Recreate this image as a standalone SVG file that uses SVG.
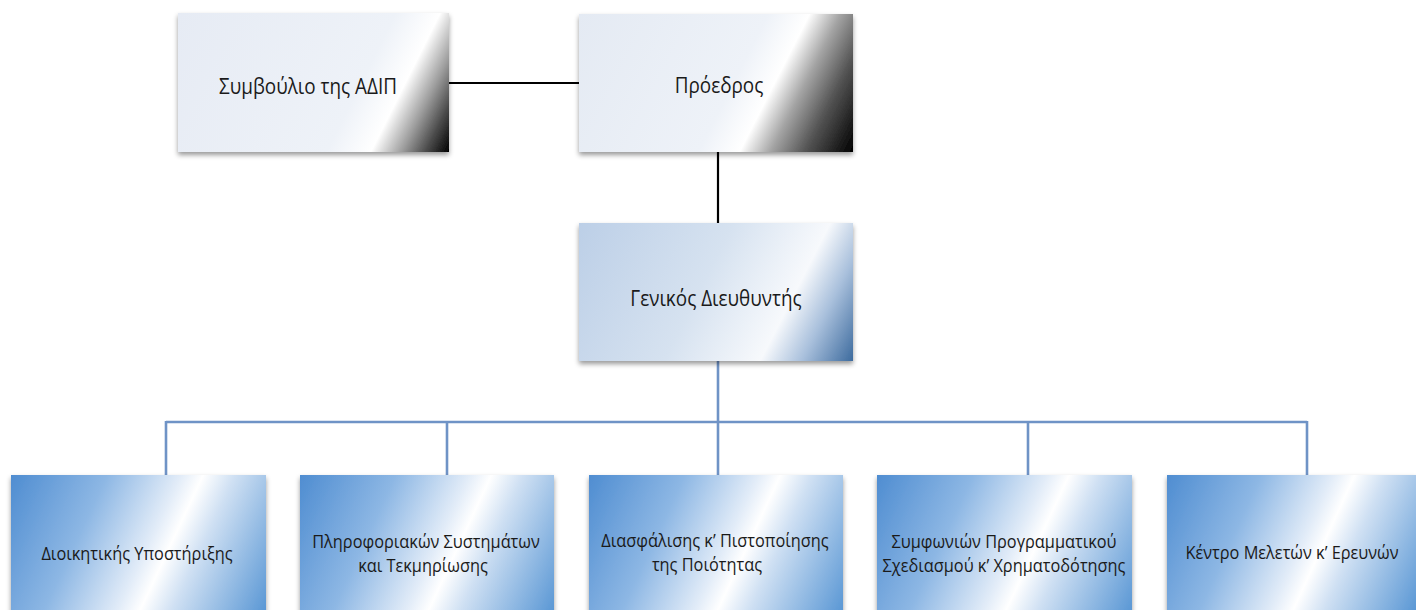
<svg xmlns="http://www.w3.org/2000/svg" width="1416" height="610" viewBox="0 0 1416 610">
  <style>
    .t { font-family: "Open Sans", "Noto Sans", "Liberation Sans", sans-serif; fill: #1a1a1a; text-anchor: middle; }
    .big { font-size: 22px; }
    .small { font-size: 19px; }
    .blk { stroke: #000; stroke-width: 2.2; fill: none; }
    .blu { stroke: #6f93c6; stroke-width: 2.6; fill: none; }
  </style>
  <defs>
    <linearGradient id="gTop1" x1="0" y1="0" x2="1.179" y2="0.302">
      <stop offset="0" stop-color="#e6ebf4"/>
      <stop offset="0.64" stop-color="#eef2f8"/>
      <stop offset="0.77" stop-color="#ffffff"/>
      <stop offset="0.86" stop-color="#9e9e9e"/>
      <stop offset="0.93" stop-color="#4c4c4c"/>
      <stop offset="1" stop-color="#000000"/>
    </linearGradient>
    <linearGradient id="gTop2" x1="0" y1="0" x2="1.179" y2="0.302">
      <stop offset="0" stop-color="#e4eaf3"/>
      <stop offset="0.55" stop-color="#eef2f8"/>
      <stop offset="0.67" stop-color="#ffffff"/>
      <stop offset="0.76" stop-color="#a4a4a4"/>
      <stop offset="0.86" stop-color="#545454"/>
      <stop offset="1" stop-color="#000000"/>
    </linearGradient>
    <linearGradient id="gMid" x1="0" y1="0" x2="1.179" y2="0.302">
      <stop offset="0" stop-color="#bccfe7"/>
      <stop offset="0.45" stop-color="#d6e2f0"/>
      <stop offset="0.73" stop-color="#f7f9fc"/>
      <stop offset="0.85" stop-color="#a9c0dc"/>
      <stop offset="1" stop-color="#3d6b9e"/>
    </linearGradient>
    <linearGradient id="gBot" x1="0" y1="0" x2="1.179" y2="0.302">
      <stop offset="0" stop-color="#4f8dd1"/>
      <stop offset="0.3" stop-color="#8db7e4"/>
      <stop offset="0.53" stop-color="#e2ecf8"/>
      <stop offset="0.6" stop-color="#ffffff"/>
      <stop offset="0.7" stop-color="#cfe0f3"/>
      <stop offset="1" stop-color="#5896d4"/>
    </linearGradient>
    <filter id="sh" x="-10%" y="-10%" width="120%" height="130%">
      <feDropShadow dx="0" dy="3" stdDeviation="2.5" flood-color="#000" flood-opacity="0.4"/>
    </filter>
  </defs>

  <g id="connectors">
    <line class="blk" x1="449" y1="83" x2="579" y2="83"/>
    <line class="blk" x1="718" y1="152" x2="718" y2="223"/>
    <line class="blu" x1="718" y1="361" x2="718" y2="475"/>
    <line class="blu" x1="166" y1="422" x2="1307" y2="422"/>
    <line class="blu" x1="166" y1="421" x2="166" y2="475"/>
    <line class="blu" x1="447" y1="422" x2="447" y2="475"/>
    <line class="blu" x1="1028" y1="422" x2="1028" y2="475"/>
    <line class="blu" x1="1307" y1="421" x2="1307" y2="475"/>
  </g>

  <g id="node-symvoulio">
    <rect x="178" y="13" width="271" height="139" fill="url(#gTop1)" filter="url(#sh)"/>
    <text class="t big" transform="translate(308 94) scale(0.86 1)">Συμβούλιο της ΑΔΙΠ</text>
  </g>

  <g id="node-proedros">
    <rect x="579" y="14" width="274" height="138" fill="url(#gTop2)" filter="url(#sh)"/>
    <text class="t big" transform="translate(719 93) scale(0.86 1)">Πρόεδρος</text>
  </g>

  <g id="node-genikos">
    <rect x="579" y="223" width="274" height="138" fill="url(#gMid)" filter="url(#sh)"/>
    <text class="t big" transform="translate(716 306) scale(0.86 1)">Γενικός Διευθυντής</text>
  </g>

  <g id="node-dioikitikis">
    <rect x="11" y="475" width="255" height="140" fill="url(#gBot)" filter="url(#sh)"/>
    <text class="t small" transform="translate(137 560) scale(0.86 1)">Διοικητικής Υποστήριξης</text>
  </g>

  <g id="node-pliroforiakon">
    <rect x="300" y="475" width="254" height="140" fill="url(#gBot)" filter="url(#sh)"/>
    <text class="t small" transform="translate(426 548) scale(0.86 1)">Πληροφοριακών Συστημάτων</text>
    <text class="t small" transform="translate(423 572) scale(0.86 1)">και Τεκμηρίωσης</text>
  </g>

  <g id="node-diasfalisis">
    <rect x="589" y="475" width="254" height="140" fill="url(#gBot)" filter="url(#sh)"/>
    <text class="t small" transform="translate(715 547) scale(0.86 1)">Διασφάλισης κ’ Πιστοποίησης</text>
    <text class="t small" transform="translate(707 571) scale(0.86 1)">της Ποιότητας</text>
  </g>

  <g id="node-symfonion">
    <rect x="877" y="475" width="255" height="140" fill="url(#gBot)" filter="url(#sh)"/>
    <text class="t small" transform="translate(1004 548) scale(0.86 1)">Συμφωνιών Προγραμματικού</text>
    <text class="t small" transform="translate(1004 572) scale(0.86 1)">Σχεδιασμού κ’ Χρηματοδότησης</text>
  </g>

  <g id="node-kentro">
    <rect x="1167" y="475" width="249" height="140" fill="url(#gBot)" filter="url(#sh)"/>
    <text class="t small" transform="translate(1292 559) scale(0.86 1)">Κέντρο Μελετών κ’ Ερευνών</text>
  </g>
</svg>
